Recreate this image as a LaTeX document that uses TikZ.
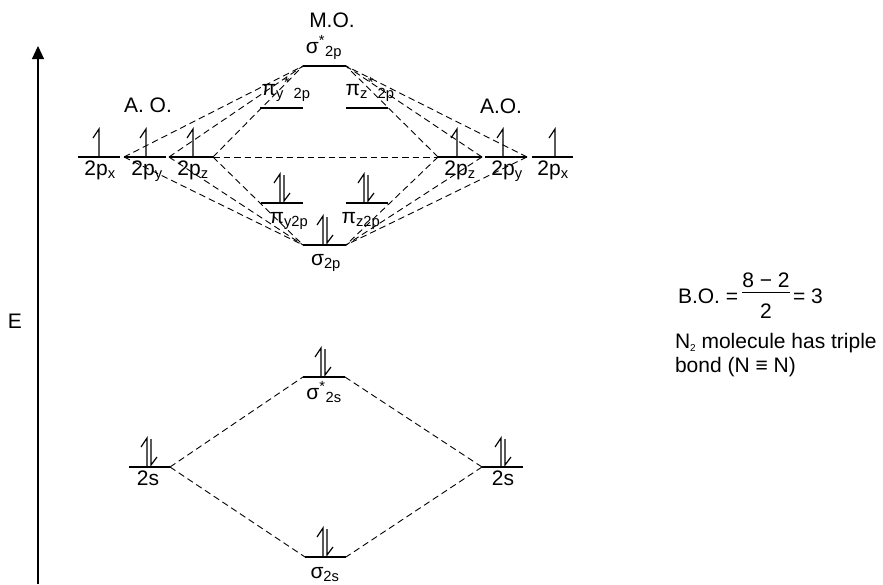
\documentclass[tikz,border=0pt]{standalone}
\usepackage{amsmath}
\usepackage{fontspec}
\setmainfont{Liberation Sans}
\usetikzlibrary{arrows.meta}
\begin{document}
\begin{tikzpicture}[x=1pt,y=-1pt,
  every node/.style={font=\fontsize{21}{25}\selectfont, inner sep=0pt, outer sep=0pt},
  lvl/.style={line width=2.8pt},
  conn/.style={line width=0.9pt, dash pattern=on 6.5pt off 4pt},
  spin/.style={line width=1.2pt, line cap=butt, line join=miter},
  lbl/.style={anchor=base},
  spinup/.pic={\draw[spin] (0,0) -- (0,-28) -- (-6,-19);},
  spinpair/.pic={\draw[spin] (-2,0) -- (-2,-29) -- (-8,-20); \draw[spin] (2,-28) -- (2,-2) -- (8,-10);}
]
\useasboundingbox (0,0) rectangle (883,584);

% energy axis
\coordinate (ebot) at (38,584);
\coordinate (etop) at (38,46);
\draw[line width=1.2pt,-{Triangle[width=12pt,length=13pt]}] (ebot) -- (etop);
\node[lbl] (E) at (15,328) {E};

% atomic orbitals 2p
\coordinate (pxLa) at (78,157);  \coordinate (pxLb) at (120,157);
\coordinate (pyLa) at (124,157); \coordinate (pyLb) at (166,157);
\coordinate (pzLa) at (169,157); \coordinate (pzLb) at (213,157);
\coordinate (pzRa) at (438,157); \coordinate (pzRb) at (482,157);
\coordinate (pyRa) at (485,157); \coordinate (pyRb) at (527,157);
\coordinate (pxRa) at (532,157); \coordinate (pxRb) at (573,157);

% molecular orbitals 2p
\coordinate (ssPa) at (303,66);  \coordinate (ssPb) at (346,66);
\coordinate (pysa) at (260,108); \coordinate (pysb) at (303,108);
\coordinate (pzsa) at (346,108); \coordinate (pzsb) at (388,108);
\coordinate (pyba) at (261,203); \coordinate (pybb) at (303,203);
\coordinate (pzba) at (346,203); \coordinate (pzbb) at (388,203);
\coordinate (sgPa) at (303,245); \coordinate (sgPb) at (346,245);

% 2s
\coordinate (sLa) at (129,467); \coordinate (sLb) at (170,467);
\coordinate (sRa) at (482,467); \coordinate (sRb) at (523,467);
\coordinate (ssSa) at (303,377); \coordinate (ssSb) at (345,377);
\coordinate (sgSa) at (305,557); \coordinate (sgSb) at (346,557);

% connectors
\foreach \a in {pyLa,pzLa,pzLb} {
  \draw[conn] (\a) -- (ssPa);
  \draw[conn] (\a) -- (sgPa);
}
\foreach \a in {pzRa,pzRb,pyRb} {
  \draw[conn] (\a) -- (ssPb);
  \draw[conn] (\a) -- (sgPb);
}
\draw[conn] (pzLb) -- (pzRa);
\draw[conn] (sLb) -- (ssSa);
\draw[conn] (sLb) -- (sgSa);
\draw[conn] (sRa) -- (ssSb);
\draw[conn] (sRa) -- (sgSb);

% levels
\foreach \a/\b in {pxLa/pxLb,pyLa/pyLb,pzLa/pzLb,pzRa/pzRb,pyRa/pyRb,pxRa/pxRb,
  ssPa/ssPb,pysa/pysb,pzsa/pzsb,pyba/pybb,pzba/pzbb,sgPa/sgPb,
  sLa/sLb,sRa/sRb,ssSa/ssSb,sgSa/sgSb}
  \draw[lvl] (\a) -- (\b);

% electrons
\foreach \x in {99,146,193,457,503,555} \pic at (\x,157) {spinup};
\pic at (282,203) {spinpair};
\pic at (366,203) {spinpair};
\pic at (325,245) {spinpair};
\pic at (149,467) {spinpair};
\pic at (503,467) {spinpair};
\pic at (323,377) {spinpair};
\pic at (325,557) {spinpair};

% labels
\node[lbl] (aoL) at (148,112) {A. O.};
\node[lbl] (aoR) at (501,113) {A.O.};
\node[lbl] (mo) at (332,27) {M.O.};
\node[lbl] (lssP) at (324,53) {σ$^{\text{*}}{}_{\text{2p}}$};
\node[lbl] (lpys) at (286,95) {π$_{\text{y}}{}^{\text{*}}\,{}_{\text{2p}}$};
\node[lbl] (lpzs) at (370,95) {π$_{\text{z}}{}^{\text{*}}\,{}_{\text{2p}}$};
\node[lbl] (lpyb) at (289,223) {π$_{\text{y2p}}$};
\node[lbl] (lpzb) at (361,223) {π$_{\text{z2p}}$};
\node[lbl] (lsgP) at (326,265) {σ$_{\text{2p}}$};
\node[lbl] (lpxL) at (100,175) {2p$_{\text{x}}$};
\node[lbl] (lpyL) at (147,175) {2p$_{\text{y}}$};
\node[lbl] (lpzL) at (193,175) {2p$_{\text{z}}$};
\node[lbl] (lpzR) at (460,175) {2p$_{\text{z}}$};
\node[lbl] (lpyR) at (507,175) {2p$_{\text{y}}$};
\node[lbl] (lpxR) at (553,175) {2p$_{\text{x}}$};
\node[lbl] (lsL) at (148,485) {2s};
\node[lbl] (lsR) at (503,485) {2s};
\node[lbl] (lssS) at (324,399) {σ$^{\text{*}}{}_{\text{2s}}$};
\node[lbl] (lsgS) at (325,578) {σ$_{\text{2s}}$};

% bond order
\node[anchor=base west] (bo) at (678,303) {B.O. =};
\node[anchor=base] (num) at (766,287) {8 − 2};
\node[anchor=base] (den) at (766,318) {2};
\coordinate (fra) at (742,292); \coordinate (frb) at (790,292);
\draw[line width=1pt] (fra) -- (frb);
\node[anchor=base west] (eq3) at (793,303) {= 3};
\node[anchor=base west] (n2) at (675,348) {N\raisebox{-3pt}{\fontsize{10}{10}\selectfont 2} molecule has triple};
\node[anchor=base west] (bond) at (675,372) {bond (N ≡ N)};
\end{tikzpicture}
\end{document}
